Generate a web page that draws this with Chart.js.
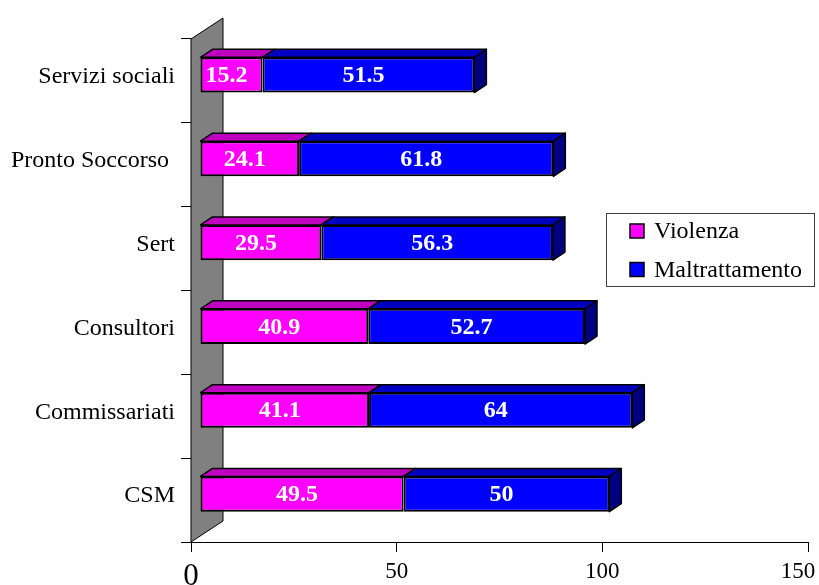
<!DOCTYPE html>
<html>
<head>
<meta charset="utf-8">
<script src="https://cdn.jsdelivr.net/npm/chart.js@4.4.1/dist/chart.umd.min.js"></script>
<style>
  body { margin: 0; background: #ffffff; }
  #barChart { display: block; }
</style>
</head>
<body>
<canvas id="barChart" width="819" height="585"></canvas>
<script>
// services and percentages
const categories = ["Servizi sociali", "Pronto Soccorso ", "Sert", "Consultori", "Commissariati", "CSM"];
const violenza = [15.2, 24.1, 29.5, 40.9, 41.1, 49.5];
const maltrattamento = [51.5, 61.8, 56.3, 52.7, 64, 50];
const xTicks = [0, 50, 100, 150];

// front / top / side shades for each series
const frontColors = ["#ff00ff", "#0000ff"];
const topColors = ["#c000c0", "#0000c0"];
const sideColors = ["#800080", "#000080"];

const serif = "'Liberation Serif', 'Times New Roman', serif";

// fake 3d depth: bars sit a bit behind the axis plane
const gap = { x: 9, y: -6 };
const depth = { x: 12, y: -8 };
const wallDepth = { x: 32, y: -21 };

// grey side wall behind the bars
const wallPlugin = {
  id: "wall",
  beforeDraw(chart) {
    // keep the last x label inside the canvas
    const items = chart.scales.x.getLabelItems(chart.chartArea);
    const last = items[items.length - 1];
    if (last && !last.shifted) {
      last.options.translation[0] -= 10;
      last.shifted = true;
    }
  },
  beforeDatasetsDraw(chart) {
    const { ctx, chartArea: a } = chart;
    ctx.save();
    ctx.beginPath();
    ctx.moveTo(a.left, a.top);
    ctx.lineTo(a.left + wallDepth.x, a.top + wallDepth.y);
    ctx.lineTo(a.left + wallDepth.x, a.bottom + wallDepth.y);
    ctx.lineTo(a.left, a.bottom);
    ctx.closePath();
    ctx.fillStyle = "#808080";
    ctx.fill();
    ctx.strokeStyle = "#000000";
    ctx.lineWidth = 1;
    ctx.stroke();
    ctx.restore();

    // push the bars back into the chart
    ctx.save();
    ctx.translate(gap.x, gap.y);
  },
  afterDatasetsDraw(chart) {
    const ctx = chart.ctx;
    const lastIndex = chart.data.datasets.length - 1;

    chart.data.datasets.forEach((ds, di) => {
      chart.getDatasetMeta(di).data.forEach((bar, i) => {
        const p = bar.getProps(["x", "y", "base", "height"], true);
        const top = p.y - p.height / 2;
        const bottom = p.y + p.height / 2;
        const x0 = Math.min(p.base, p.x);
        const x1 = Math.max(p.base, p.x);

        ctx.lineWidth = 1.5;
        ctx.strokeStyle = "#000000";
        ctx.lineJoin = "round";

        // top face
        ctx.beginPath();
        ctx.moveTo(x0, top);
        ctx.lineTo(x0 + depth.x, top + depth.y);
        ctx.lineTo(x1 + depth.x, top + depth.y);
        ctx.lineTo(x1, top);
        ctx.closePath();
        ctx.fillStyle = topColors[di];
        ctx.fill();
        ctx.stroke();

        // right side face on the end of the stack
        if (di === lastIndex) {
          ctx.beginPath();
          ctx.moveTo(x1, top);
          ctx.lineTo(x1 + depth.x, top + depth.y);
          ctx.lineTo(x1 + depth.x, bottom + depth.y);
          ctx.lineTo(x1, bottom);
          ctx.closePath();
          ctx.fillStyle = sideColors[di];
          ctx.fill();
          ctx.stroke();
        }

        // value label
        ctx.fillStyle = "#ffffff";
        ctx.font = "bold 24px " + serif;
        ctx.textAlign = "center";
        ctx.textBaseline = "middle";
        ctx.fillText(String(ds.data[i]), (x0 + x1) / 2 - 5, p.y + 1);
      });
    });
    ctx.restore();
  }
};

// boxed legend on the right side
const legendPlugin = {
  id: "boxLegend",
  afterDraw(chart) {
    const ctx = chart.ctx;
    const box = { x: 606, y: 213, w: 208, h: 73 };
    ctx.save();
    ctx.strokeStyle = "#404040";
    ctx.lineWidth = 1;
    ctx.strokeRect(box.x + 0.5, box.y + 0.5, box.w, box.h);
    chart.data.datasets.forEach((ds, i) => {
      const cy = box.y + 18 + i * 38.5;
      ctx.fillStyle = ds.backgroundColor;
      ctx.fillRect(box.x + 24, cy - 7, 14, 14);
      ctx.strokeStyle = "#000000";
      ctx.lineWidth = 1.5;
      ctx.strokeRect(box.x + 24, cy - 7, 14, 14);
      ctx.fillStyle = "#000000";
      ctx.font = "24px " + serif;
      ctx.textAlign = "left";
      ctx.textBaseline = "middle";
      ctx.fillText(ds.label, box.x + 48, cy + 1);
    });
    ctx.restore();
  }
};

const ctx = document.getElementById("barChart").getContext("2d");
new Chart(ctx, {
  type: "bar",
  data: {
    labels: categories,
    datasets: [
      {
        label: "Violenza",
        data: violenza,
        backgroundColor: frontColors[0],
        borderColor: "#000000",
        borderWidth: 2,
        borderSkipped: false
      },
      {
        label: "Maltrattamento",
        data: maltrattamento,
        backgroundColor: frontColors[1],
        borderColor: "#000000",
        borderWidth: 2,
        borderSkipped: false
      }
    ]
  },
  options: {
    indexAxis: "y",
    responsive: false,
    animation: false,
    devicePixelRatio: 1,
    layout: { padding: { top: 39, right: 11, left: 0, bottom: 0 } },
    datasets: {
      bar: { categoryPercentage: 1, barPercentage: 0.42 }
    },
    plugins: {
      legend: { display: false },
      tooltip: { enabled: false }
    },
    scales: {
      x: {
        stacked: true,
        min: 0,
        max: 150,
        afterBuildTicks: scale => {
          scale.ticks = xTicks.map(v => ({ value: v }));
        },
        grid: { drawOnChartArea: false, tickLength: 10, color: "#000000" },
        border: { display: true, color: "#000000", width: 1 },
        ticks: {
          color: "#000000",
          padding: 6,
          maxRotation: 0,
          font: c => ({ family: serif, size: c.tick && c.tick.value === 0 ? 31 : 23 })
        },
        afterFit: scale => {
          scale.height = 43;
          scale.paddingLeft = 0;
          scale.paddingRight = 0;
        }
      },
      y: {
        stacked: true,
        offset: true,
        grid: { offset: true, drawOnChartArea: false, tickLength: 10, color: "#000000" },
        border: { display: true, color: "#000000", width: 1 },
        ticks: {
          color: "#000000",
          padding: 6,
          labelOffset: -4,
          font: { family: serif, size: 24 }
        },
        afterFit: scale => {
          scale.width = 191;
          scale.paddingTop = 0;
          scale.paddingBottom = 0;
        }
      }
    }
  },
  plugins: [wallPlugin, legendPlugin]
});
</script>
</body>
</html>
